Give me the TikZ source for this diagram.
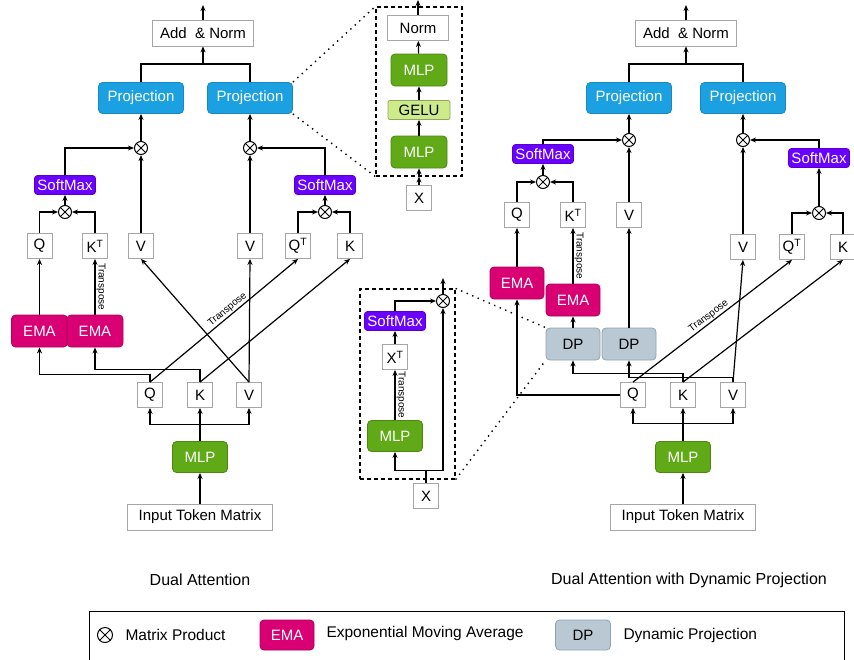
\documentclass[tikz,border=0pt]{standalone}
\usepackage{fontspec}
\setmainfont{Liberation Sans}
\usetikzlibrary{arrows.meta,positioning}

\definecolor{projblue}{HTML}{1BA1E2}
\definecolor{smpurple}{HTML}{6A00FF}
\definecolor{emapink}{HTML}{D80073}
\definecolor{mlpgreen}{HTML}{60A917}
\definecolor{gelugreen}{HTML}{CDEB8B}
\definecolor{dpgray}{HTML}{BAC8D3}
\definecolor{dpline}{HTML}{8FA3B3}

\newcommand\nodefont{\fontsize{15}{17}\selectfont}
\newcommand\titlefont{\fontsize{16}{18}\selectfont}
\newcommand\trfont{\fontsize{10}{12}\selectfont}

\tikzset{
  arr/.style={-{Stealth[length=6pt,width=5pt]}, line width=1.2pt},
  plain/.style={draw=gray!70, fill=white, line width=0.8pt, minimum width=25, minimum height=25, inner sep=0pt, font=\nodefont},
  fillbox/.style={rounded corners=4pt, text=white, inner sep=0pt, font=\nodefont, line width=0.8pt},
  proj/.style={fillbox, fill=projblue, draw=projblue!85!black, minimum width=85, minimum height=31},
  soft/.style={fillbox, fill=smpurple, draw=smpurple!80!black, minimum width=61, minimum height=19, rounded corners=3pt},
  ema/.style={fillbox, fill=emapink, draw=emapink!80!black, minimum width=56, minimum height=32},
  mlp/.style={fillbox, fill=mlpgreen, draw=mlpgreen!80!black, minimum width=55, minimum height=31},
  gelu/.style={fillbox, text=black, fill=gelugreen, draw=gelugreen!70!black, minimum width=62, minimum height=19, rounded corners=2pt},
  dp/.style={fillbox, text=black, fill=dpgray, draw=dpline, minimum width=54, minimum height=32},
  otimes/.style={circle, draw, line width=1pt, fill=white, minimum size=13, inner sep=0pt,
    path picture={\draw[line width=0.8pt] (path picture bounding box.north west) -- (path picture bounding box.south east)
      (path picture bounding box.north east) -- (path picture bounding box.south west);}},
  inset/.style={draw, line width=1.2pt, dash pattern=on 4pt off 3pt, inner sep=0pt},
  dots/.style={line width=1.4pt, dash pattern=on 1.4pt off 4.6pt},
  trlabel/.style={font=\trfont, inner sep=1pt},
  title/.style={font=\titlefont},
  legtext/.style={font=\fontsize{15.5}{18}\selectfont, anchor=west},
}

\begin{document}
\begin{tikzpicture}[x=1pt,y=-1pt]
  \useasboundingbox (0,0) rectangle (854,659);

  % ---------------- Dual Attention (left)
  \node[plain, minimum width=101, minimum height=26] (lnorm) at (203,33) {Add~~\& Norm};
  \coordinate (lout) at (203,5);
  \coordinate (ljoin) at (203,64);
  \node[proj] (lproj1) at (141,98) {Projection};
  \node[proj] (lproj2) at (250,98) {Projection};
  \node[otimes] (lmul1) at (141,148) {};
  \node[otimes] (lmul2) at (250,148) {};
  \node[soft] (lsm1) at (65,185) {SoftMax};
  \node[soft] (lsm2) at (325,185) {SoftMax};
  \node[otimes] (lmul3) at (65,212) {};
  \node[otimes] (lmul4) at (325,212) {};
  \node[plain] (lq) at (39.5,246) {Q};
  \node[plain] (lkt) at (95,246) {K\textsuperscript{T}};
  \node[plain] (lv1) at (141,246) {V};
  \node[plain] (lv2) at (250,246) {V};
  \node[plain] (lqt) at (298,246) {Q\textsuperscript{T}};
  \node[plain] (lk) at (350,246) {K};
  \node[ema] (lema1) at (39.5,331) {EMA};
  \node[ema] (lema2) at (95,331) {EMA};
  \node[plain] (lq0) at (150,395) {Q};
  \node[plain] (lk0) at (200,395) {K};
  \node[plain] (lv0) at (249,395) {V};
  \node[mlp] (lmlp) at (200,457) {MLP};
  \node[plain, minimum width=145, minimum height=26] (lin) at (200,517) {Input Token Matrix};

  \draw[arr] (lin) -- (lmlp);
  \draw[arr] (lmlp) -- (lk0);
  \draw[arr] (lmlp.north) -- ++(0,-17) -| (lq0);
  \draw[arr] (lmlp.north) ++(0,-17) -| (lv0);
  \draw[arr] (lq0.north) -- ++(0,-8) -| (lema1);
  \draw[arr] (lk0.north) -- ++(0,-13) -| (lema2);
  \draw[arr] (lq0.north) -- node[trlabel, sloped, above, pos=0.55] {Transpose} (lqt.south);
  \draw[arr] (lk0.north) -- (lk.south);
  \draw[arr] (lv0.north) -- (lv1.south);
  \draw[arr] (lv0.north) -- (lv2.south);
  \draw[arr] (lema1) -- (lq);
  \draw[arr] (lema2) -- node[trlabel, rotate=-90, anchor=south] {Transpose} (lkt);
  \draw[arr] (lq.north) |- (lmul3.west);
  \draw[arr] (lkt.north) |- (lmul3.east);
  \draw[arr] (lmul3) -- (lsm1);
  \draw[arr] (lsm1.north) |- (lmul1.west);
  \draw[arr] (lv1) -- (lmul1);
  \draw[arr] (lmul1) -- (lproj1);
  \draw[arr] (lqt.north) |- (lmul4.west);
  \draw[arr] (lk.north) |- (lmul4.east);
  \draw[arr] (lmul4) -- (lsm2);
  \draw[arr] (lsm2.north) |- (lmul2.east);
  \draw[arr] (lv2) -- (lmul2);
  \draw[arr] (lmul2) -- (lproj2);
  \draw[line width=1.2pt] (lproj1.north) |- (ljoin) -| (lproj2.north);
  \draw[arr] (ljoin) -- (lnorm);
  \draw[arr] (lnorm) -- (lout);

  % ---------------- MLP inset
  \node[inset, minimum width=86, minimum height=169] (mbox) at (419,91.5) {};
  \coordinate (mout) at (418,0);
  \node[plain, minimum width=61] (mnorm) at (418,28) {Norm};
  \node[mlp, minimum width=56, minimum height=32] (mmlp2) at (419,70) {MLP};
  \node[gelu] (mgelu) at (419,110) {GELU};
  \node[mlp, minimum width=56, minimum height=32] (mmlp1) at (419,152) {MLP};
  \node[plain] (mx) at (419,198) {X};
  \draw[arr] (mx) -- (mbox.south);
  \draw[arr] (mbox.south) -- (mmlp1);
  \draw[arr] (mmlp1) -- (mgelu);
  \draw[arr] (mgelu) -- (mmlp2);
  \draw[arr] (mmlp2) -- (mnorm);
  \draw[arr] (mnorm) -- (mout);
  \draw[dots] (lproj2.north east) -- (mbox.north west);
  \draw[dots] (lproj2.south east) -- (mbox.south west);

  % ---------------- DP inset
  \node[inset, minimum width=95, minimum height=190] (dbox) at (407.5,384) {};
  \coordinate (dout) at (443,278);
  \node[otimes] (dmul) at (443,301) {};
  \node[soft] (dsm) at (395,321) {SoftMax};
  \node[plain] (dxt) at (395,357) {X\textsuperscript{T}};
  \node[mlp] (dmlp) at (395,436) {MLP};
  \node[plain] (dx) at (426,496) {X};
  \draw[arr] (dx.north) -- ++(0,-13) -| (dmlp);
  \draw[arr] (dx.north) ++(0,-13) -| (dmul);
  \draw[arr] (dmlp) -- node[trlabel, rotate=-90, anchor=south] {Transpose} (dxt);
  \draw[arr] (dxt) -- (dsm);
  \draw[arr] (dsm.north) |- (dmul.west);
  \draw[arr] (dmul) -- (dout);

  % ---------------- Dual Attention with Dynamic Projection (right)
  \node[plain, minimum width=101, minimum height=26] (rnorm) at (686,33) {Add~~\& Norm};
  \coordinate (rout) at (686,5);
  \coordinate (rjoin) at (686,64);
  \node[proj] (rproj1) at (629,98) {Projection};
  \node[proj] (rproj2) at (743,98) {Projection};
  \node[otimes] (rmul1) at (629,140) {};
  \node[otimes] (rmul2) at (743,140) {};
  \node[soft] (rsm1) at (543,154) {SoftMax};
  \node[soft] (rsm2) at (819,158) {SoftMax};
  \node[otimes] (rmul3) at (543,182) {};
  \node[otimes] (rmul4) at (819,213) {};
  \node[plain] (rq) at (517,215) {Q};
  \node[plain] (rkt) at (573,215) {K\textsuperscript{T}};
  \node[plain] (rv1) at (629,215) {V};
  \node[plain] (rv2) at (743,247) {V};
  \node[plain] (rqt) at (792,247) {Q\textsuperscript{T}};
  \node[plain] (rk) at (843,247) {K};
  \node[ema, minimum width=54] (rema1) at (517,283) {EMA};
  \node[ema, minimum width=54] (rema2) at (573,300) {EMA};
  \node[dp] (rdp1) at (573,344) {DP};
  \node[dp] (rdp2) at (629,344) {DP};
  \node[plain] (rq0) at (633,395) {Q};
  \node[plain] (rk0) at (683,395) {K};
  \node[plain] (rv0) at (733,395) {V};
  \node[mlp] (rmlp) at (683,457) {MLP};
  \node[plain, minimum width=145, minimum height=26] (rin) at (683,517) {Input Token Matrix};

  \draw[arr] (rin) -- (rmlp);
  \draw[arr] (rmlp) -- (rk0);
  \draw[arr] (rmlp.north) -- ++(0,-18) -| (rq0);
  \draw[arr] (rmlp.north) ++(0,-18) -| (rv0);
  \draw[arr] (rq0.west) -| (rema1);
  \draw[arr] (rq0.north) -- node[trlabel, sloped, above, pos=0.5] {Transpose} (rqt.south);
  \draw[arr] (rk0.north) -- ++(0,-9) -| (rdp1);
  \draw[arr] (rk0.north) -- (rk.south);
  \draw[arr] (rv0.north) -- ++(0,-5) -| (rdp2);
  \draw[arr] (rv0.north) -- (rv2.south);
  \draw[arr] (rdp1) -- (rema2);
  \draw[arr] (rdp2) -- (rv1);
  \draw[arr] (rema1) -- (rq);
  \draw[arr] (rema2) -- node[trlabel, rotate=-90, anchor=south] {Transpose} (rkt);
  \draw[arr] (rq.north) |- (rmul3.west);
  \draw[arr] (rkt.north) |- (rmul3.east);
  \draw[arr] (rmul3) -- (rsm1);
  \draw[arr] (rsm1.north) |- (rmul1.west);
  \draw[arr] (rv1) -- (rmul1);
  \draw[arr] (rmul1) -- (rproj1);
  \draw[arr] (rqt.north) |- (rmul4.west);
  \draw[arr] (rk.north) |- (rmul4.east);
  \draw[arr] (rmul4) -- (rsm2);
  \draw[arr] (rsm2.north) |- (rmul2.east);
  \draw[arr] (rv2) -- (rmul2);
  \draw[arr] (rmul2) -- (rproj2);
  \draw[line width=1.2pt] (rproj1.north) |- (rjoin) -| (rproj2.north);
  \draw[arr] (rjoin) -- (rnorm);
  \draw[arr] (rnorm) -- (rout);
  \draw[dots] (dbox.north east) -- (rdp1.north west);
  \draw[dots] (dbox.south east) -- (rdp1.south west);

  % ---------------- titles and legend
  \node[title] (ltitle) at (200,580) {Dual Attention};
  \node[title] (rtitle) at (689,580) {Dual Attention with Dynamic Projection};
  \draw[line width=1pt] (89,611) rectangle (844,680);
  \node[otimes, minimum size=15] (lgmul) at (105,635) {};
  \node[legtext] (lgmultxt) at (122,635) {Matrix Product};
  \node[ema, minimum width=54, minimum height=30] (lgema) at (287,635) {EMA};
  \node[legtext] (lgematxt) at (323,633) {Exponential Moving Average};
  \node[dp, minimum width=55, minimum height=30] (lgdp) at (583,635) {DP};
  \node[legtext] (lgdptxt) at (620,635) {Dynamic Projection};
\end{tikzpicture}
\end{document}
